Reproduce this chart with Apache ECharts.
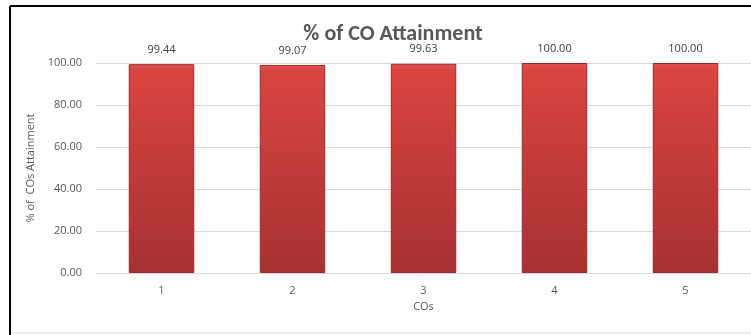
<!DOCTYPE html>
<html>
<head>
<meta charset="utf-8">
<script src="https://cdn.jsdelivr.net/npm/echarts@6/dist/echarts.min.js"></script>
<style>
  html, body { margin: 0; padding: 0; background: #fff; }
  #main { width: 751px; height: 335px; }
</style>
</head>
<body>
<div id="main"></div>
<script>
var categories = ['1', '2', '3', '4', '5'];
var attainment = [99.44, 99.07, 99.63, 100.00, 100.00];
var yTicks = [0, 20, 40, 60, 80, 100];

var chart = echarts.init(document.getElementById('main'));

var option = {
  backgroundColor: '#fff',
  animation: false,
  title: {
    text: '% of CO Attainment',
    left: 388,
    textAlign: 'center',
    top: 18,
    textStyle: { fontFamily: 'Calibri, Carlito, "Open Sans", sans-serif', fontSize: 22, fontWeight: 'bold', color: '#595959' }
  },
  graphic: [
    { type: 'line', shape: { x1: 10, y1: 6, x2: 10, y2: 335 }, style: { stroke: '#000', lineWidth: 2 } },
    { type: 'line', shape: { x1: 10, y1: 6, x2: 751, y2: 6 }, style: { stroke: '#000', lineWidth: 2 } },
    { type: 'line', shape: { x1: 11, y1: 333, x2: 751, y2: 333 }, style: { stroke: '#d9d9d9', lineWidth: 1 } }
  ],
  grid: { left: 96, right: 0, top: 63, bottom: 62, containLabel: false },
  xAxis: {
    type: 'category',
    data: categories,
    name: 'COs',
    nameLocation: 'middle',
    nameGap: 28,
    nameTextStyle: { color: '#595959', fontSize: 11, fontFamily: '"Open Sans", sans-serif' },
    axisLine: { show: true, lineStyle: { color: '#d9d9d9' } },
    axisTick: { show: false },
    axisLabel: { color: '#595959', fontSize: 11, margin: 12, fontFamily: '"Open Sans", sans-serif' }
  },
  yAxis: {
    type: 'value',
    min: yTicks[0],
    max: yTicks[yTicks.length - 1],
    interval: 20,
    name: '% of  COs Attainment',
    nameLocation: 'middle',
    nameGap: 52,
    nameTextStyle: { color: '#595959', fontSize: 11, fontFamily: '"Open Sans", sans-serif' },
    axisLine: { show: false },
    axisTick: { show: false },
    axisLabel: {
      color: '#595959', fontSize: 11, margin: 14, fontFamily: '"Open Sans", sans-serif',
      formatter: function (v) { return v.toFixed(2); }
    },
    splitLine: { lineStyle: { color: '#d9d9d9' } }
  },
  series: [{
    type: 'bar',
    data: attainment,
    barWidth: '50%',
    itemStyle: {
      color: new echarts.graphic.LinearGradient(0, 0, 0, 1, [
        { offset: 0, color: '#e05350' },
        { offset: 0.03, color: '#d94441' },
        { offset: 1, color: '#a63131' }
      ]),
      borderColor: '#9a2a2a',
      borderWidth: 1
    },
    label: {
      show: true,
      position: 'top',
      distance: 9,
      color: '#404040',
      fontSize: 11,
      fontFamily: '"Open Sans", sans-serif',
      formatter: function (p) { return p.value.toFixed(2); }
    }
  }]
};

chart.setOption(option);
</script>
</body>
</html>
